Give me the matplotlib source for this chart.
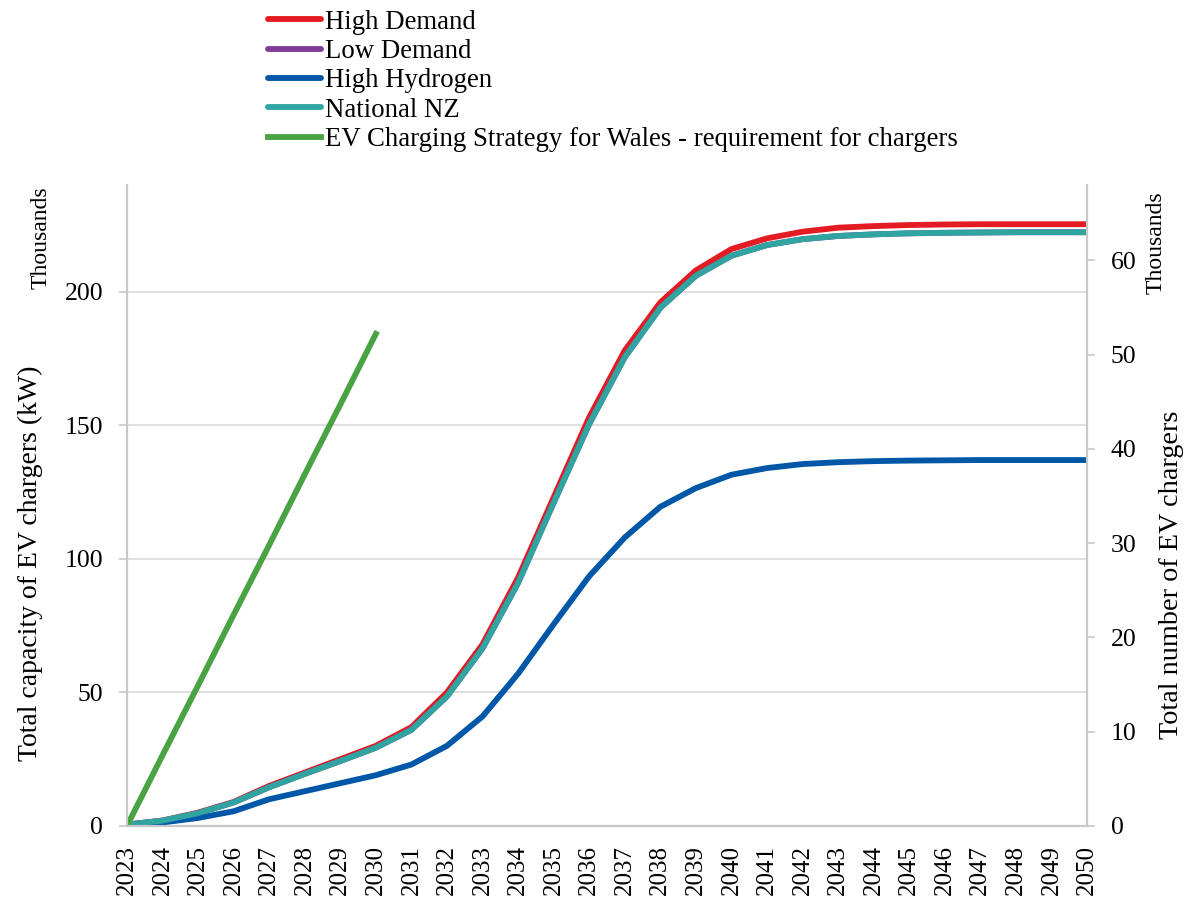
import numpy as np
import matplotlib
matplotlib.use('Agg')
import matplotlib.pyplot as plt
from matplotlib.ticker import FixedLocator

plt.rcParams['font.family'] = ['Liberation Serif', 'DejaVu Serif']

# years on the category axis
years = list(range(2023, 2051))

# capacity of EV chargers, thousands kW (left axis)
high_demand = [0.5, 2, 5, 9, 15, 20, 25, 30, 37, 50, 68, 93, 123, 153, 178, 196, 208, 216,
               220, 222.5, 224, 224.6, 225, 225.2, 225.3, 225.3, 225.3, 225.3]
low_demand = [0.5, 2, 4.8, 8.8, 14.5, 19.5, 24.3, 29.3, 36, 48.5, 66.5, 91, 121, 150.5, 175.5, 194, 206, 213.5,
              217.5, 219.7, 220.9, 221.5, 221.9, 222.1, 222.2, 222.3, 222.3, 222.3]
high_hydrogen = [0.3, 1.3, 3, 5.5, 10, 13, 16, 19, 23, 30, 41, 57, 75.5, 93.5, 108, 119.5, 126.5, 131.5,
                 134, 135.5, 136.2, 136.6, 136.8, 136.9, 137, 137, 137, 137]
national_nz = [0.5, 2, 4.8, 8.8, 14.5, 19.5, 24.3, 29.3, 36, 48.5, 66.5, 91, 121, 150.5, 175.5, 194, 206, 213.5,
               217.5, 219.7, 220.9, 221.5, 221.9, 222.1, 222.2, 222.3, 222.3, 222.3]

# Wales strategy requirement, thousands of chargers (right axis)
wales_years = list(range(2023, 2031))
wales_req = [0, 7.5, 14.9, 22.4, 29.8, 37.3, 44.7, 52.2]

fig = plt.figure(figsize=(12, 8.97), dpi=100)
ax = fig.add_axes([0.1058, 0.0792, 0.8, 0.7146])
ax2 = ax.twinx()

x = np.arange(len(years))
lw = 4.2
l1, = ax.plot(x, high_demand, color='#E31B23', lw=lw, label='High Demand', solid_capstyle='round')
l2, = ax.plot(x, low_demand, color='#7D3C98', lw=lw, label='Low Demand', solid_capstyle='round')
l3, = ax.plot(x, high_hydrogen, color='#0057A8', lw=lw, label='High Hydrogen', solid_capstyle='round')
l4, = ax.plot(x, national_nz, color='#2FA4A0', lw=lw, label='National NZ', solid_capstyle='round')
l5, = ax2.plot(np.arange(len(wales_years)), wales_req, color='#4AA342', lw=lw,
               label='EV Charging Strategy for Wales - requirement for chargers')

grey = '#C8C8C8'
ax.set_xlim(0, len(years) - 1)
ax.set_ylim(0, 240)
ax2.set_ylim(0, 68)
ax.set_yticks([0, 50, 100, 150, 200])
ax2.set_yticks([0, 10, 20, 30, 40, 50, 60])
ax.grid(axis='y', color='#D9D9D9', lw=1.2)
ax.set_axisbelow(True)

ax.set_xticks(x)
ax.set_xticklabels([str(y) for y in years], rotation=90, fontsize=18)
ax.tick_params(axis='x', length=0, pad=14)
ax.xaxis.set_minor_locator(FixedLocator(x[1::2]))
ax.tick_params(axis='x', which='minor', length=6, color=grey, width=1.2)
ax.tick_params(axis='y', labelsize=18.5, length=6, color=grey, width=1.2, pad=11)
ax2.tick_params(axis='y', labelsize=18.5, length=6, color=grey, width=1.2, pad=11)

for a in (ax, ax2):
    a.spines['top'].set_visible(False)
    for s in ('left', 'right', 'bottom'):
        a.spines[s].set_color(grey)
        a.spines[s].set_linewidth(1.5)

fig.text(0.025, 0.372, 'Total capacity of EV chargers (kW)', rotation=90, fontsize=20,
         ha='center', va='center')
fig.text(0.034, 0.735, 'Thousands', rotation=90, fontsize=17, ha='center', va='center')
fig.text(0.976, 0.359, 'Total number of EV chargers', rotation=90, fontsize=20.3,
         ha='center', va='center')
fig.text(0.963, 0.730, 'Thousands', rotation=90, fontsize=17, ha='center', va='center')

fig.legend(handles=[l1, l2, l3, l4, l5], loc='upper left', bbox_to_anchor=(0.2215, 0.992),
           frameon=False, fontsize=19.3, handlelength=1.95, handletextpad=0.15,
           labelspacing=0.16, borderaxespad=0.0, borderpad=0.1)

fig.savefig('out.png', dpi=100)
